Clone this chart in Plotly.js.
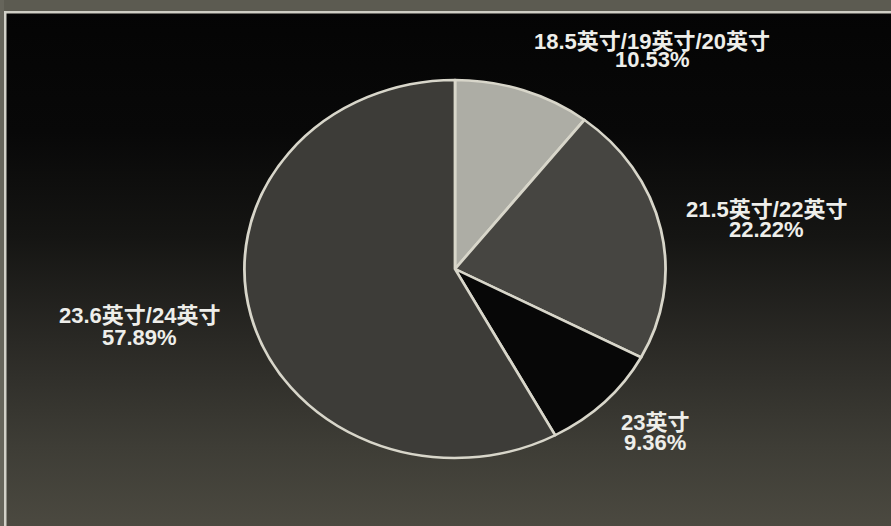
<!DOCTYPE html>
<html>
<head>
<meta charset="utf-8">
<script src="https://cdn.plot.ly/plotly-3.0.1.min.js"></script>
<style>
  html, body { margin: 0; padding: 0; background: #000; }
  #chart {
    width: 891px; height: 526px;
    background: linear-gradient(to bottom, #040404 0%, #080808 25%, #151513 45%, #2a2925 65%, #3e3d36 85%, #4b4940 100%);
  }
</style>
</head>
<body>
<div id="chart"></div>
<script>
// ---- data ----
const categories = ['18.5英寸/19英寸/20英寸', '21.5英寸/22英寸', '23英寸', '23.6英寸/24英寸'];
const shares = [10.53, 22.22, 9.36, 57.89];
const percentLabels = ['10.53%', '22.22%', '9.36%', '57.89%'];

// ---- presentation ----
const W = 891, H = 526;
const sliceColors = ['#adada5', '#464541', '#070707', '#3d3c38'];
// label placement in pixels (centre x, line-1 y, line-2 y)
const labelPos = [
  [652, 41, 60],
  [766, 209, 229],
  [139, 315, 337],
  [655, 422, 442]
];
const labelOrder = [0, 1, 3, 2]; // index into labelPos for each category

const cx = 455, cy = 269, r = 189, sx = 1.114;

const annotations = [];
categories.forEach((c, i) => {
  const p = labelPos[labelOrder[i]];
  annotations.push({
    text: c, xref: 'paper', yref: 'paper', x: p[0] / W, y: 1 - p[1] / H,
    xanchor: 'center', yanchor: 'middle', showarrow: false,
    font: { family: 'Liberation Sans, Arial, Noto Sans CJK SC, sans-serif', size: 22, color: '#eeeeea', weight: 'bold' }
  });
  annotations.push({
    text: percentLabels[i], xref: 'paper', yref: 'paper', x: p[0] / W, y: 1 - p[2] / H,
    xanchor: 'center', yanchor: 'middle', showarrow: false,
    font: { family: 'Liberation Sans, Arial, sans-serif', size: 22, color: '#eeeeea', weight: 'bold' }
  });
});

const shapes = [
  // top frame strip
  { type: 'rect', xref: 'paper', yref: 'paper', x0: 0, x1: 1, y0: 1 - 11 / H, y1: 1, fillcolor: '#5c5b51', line: { width: 0 }, layer: 'below' },
  { type: 'rect', xref: 'paper', yref: 'paper', x0: 0, x1: 1, y0: 1 - 13.5 / H, y1: 1 - 11 / H, fillcolor: '#cfcec4', line: { width: 0 }, layer: 'below' },
  // left frame strip
  { type: 'rect', xref: 'paper', yref: 'paper', x0: 0, x1: 4 / W, y0: 0, y1: 1, fillcolor: '#66655b', line: { width: 0 }, layer: 'below' },
  { type: 'rect', xref: 'paper', yref: 'paper', x0: 4 / W, x1: 6.5 / W, y0: 0, y1: 1 - 11 / H, fillcolor: '#d2d1c8', line: { width: 0 }, layer: 'below' }
];

const trace = {
  type: 'pie',
  labels: categories,
  values: shares,
  sort: false,
  direction: 'clockwise',
  rotation: 0,
  textinfo: 'none',
  hoverinfo: 'label+percent',
  marker: { colors: sliceColors, line: { color: '#d8d6ca', width: 2.5 } },
  domain: { x: [(cx - r) / W, (cx + r) / W], y: [(H - cy - r) / H, (H - cy + r) / H] },
  showlegend: false
};

const layout = {
  width: W, height: H,
  margin: { l: 0, r: 0, t: 0, b: 0 },
  paper_bgcolor: 'rgba(0,0,0,0)',
  plot_bgcolor: 'rgba(0,0,0,0)',
  showlegend: false,
  annotations: annotations,
  shapes: shapes
};

Plotly.newPlot('chart', [trace], layout, { displayModeBar: false, staticPlot: true }).then(gd => {
  const pl = gd.querySelector('.pielayer');
  if (pl) pl.setAttribute('transform', `translate(${cx},0) scale(${sx},1) translate(${-cx},0)`);
});
</script>
</body>
</html>
